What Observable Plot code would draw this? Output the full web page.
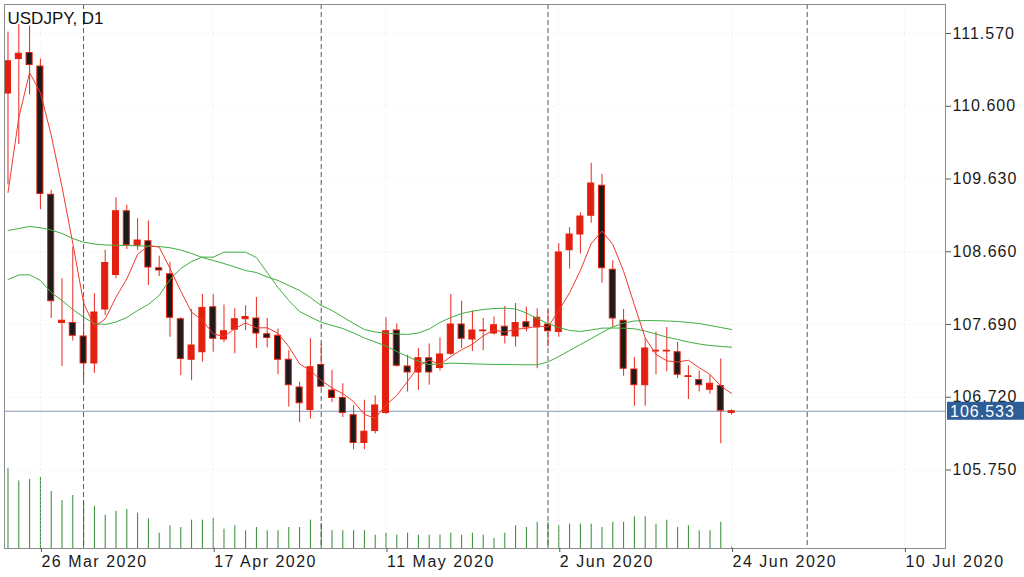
<!DOCTYPE html>
<html><head><meta charset="utf-8">
<script src="https://cdn.jsdelivr.net/npm/d3@7"></script>
<script src="https://cdn.jsdelivr.net/npm/@observablehq/plot@0.6"></script>
<style>
body{margin:0;background:#fff;}
#wrap{position:relative;width:1024px;height:577px;overflow:hidden;}
#wrap svg{position:absolute;left:0;top:0;}
</style></head><body><div id="wrap"></div>
<script>
// ---------- data ----------
const dates = ["2020-03-23","2020-03-24","2020-03-25","2020-03-26","2020-03-27","2020-03-30","2020-03-31",
"2020-04-01","2020-04-02","2020-04-03","2020-04-06","2020-04-07","2020-04-08","2020-04-09","2020-04-10",
"2020-04-13","2020-04-14","2020-04-15","2020-04-16","2020-04-17","2020-04-20","2020-04-21","2020-04-22",
"2020-04-23","2020-04-24","2020-04-27","2020-04-28","2020-04-29","2020-04-30","2020-05-01","2020-05-04",
"2020-05-05","2020-05-06","2020-05-07","2020-05-08","2020-05-11","2020-05-12","2020-05-13","2020-05-14",
"2020-05-15","2020-05-18","2020-05-19","2020-05-20","2020-05-21","2020-05-22","2020-05-25","2020-05-26",
"2020-05-27","2020-05-28","2020-05-29","2020-06-01","2020-06-02","2020-06-03","2020-06-04","2020-06-05",
"2020-06-08","2020-06-09","2020-06-10","2020-06-11","2020-06-12","2020-06-15","2020-06-16","2020-06-17",
"2020-06-18","2020-06-19","2020-06-22","2020-06-23","2020-06-24"];
const open = [110.77,111.23,111.31,111.13,109.42,107.71,107.71,107.53,107.17,107.89,108.35,109.20,108.74,108.80,108.44,
108.36,107.76,107.22,107.32,107.92,107.49,107.62,107.76,107.77,107.56,107.54,107.22,106.85,106.55,107.15,106.81,
106.71,106.48,106.11,106.27,106.51,107.61,107.13,107.05,107.24,107.11,107.30,107.69,107.49,107.60,107.57,107.66,
107.53,107.72,107.65,107.69,107.59,108.68,108.89,109.14,109.54,108.42,107.74,107.09,106.88,107.33,107.33,107.32,
106.99,106.95,106.82,106.87,106.51];
const high = [111.59,111.69,111.67,111.23,109.48,108.30,108.72,108.03,108.10,108.68,109.38,109.28,109.10,109.07,108.60,
108.52,107.78,107.89,108.09,108.09,107.95,107.90,107.94,108.05,107.77,107.63,107.34,106.92,107.50,107.43,107.08,
106.90,106.61,106.68,106.74,107.78,107.70,107.28,107.37,107.43,107.51,108.09,108.00,107.87,107.77,107.79,107.93,
107.97,107.92,107.90,107.88,108.77,108.98,109.18,109.84,109.69,108.54,107.89,107.25,107.50,107.59,107.65,107.45,
107.14,107.07,107.01,107.23,106.55];
const low = [109.55,110.09,110.75,109.22,107.77,107.13,107.47,106.94,107.04,107.81,108.30,108.69,108.68,108.21,108.33,
107.52,107.01,106.94,107.19,107.32,107.45,107.30,107.61,107.37,107.38,107.02,106.59,106.38,106.43,106.84,106.65,
106.45,106.02,106.02,106.23,106.49,107.12,106.79,106.81,106.88,107.07,107.28,107.37,107.33,107.34,107.55,107.43,
107.39,107.59,107.10,107.39,107.52,108.43,108.63,109.04,108.24,107.65,107.00,106.60,106.60,107.02,107.06,106.97,
106.69,106.79,106.76,106.10,106.48];
const close = [111.20,111.30,111.15,109.43,108.00,107.74,107.54,107.17,107.85,108.51,109.20,108.75,108.81,108.45,108.41,
107.78,107.23,107.41,107.91,107.50,107.60,107.76,107.79,107.57,107.51,107.22,106.88,106.64,107.12,106.86,106.71,
106.51,106.11,106.26,106.61,107.60,107.14,107.05,107.24,107.05,107.29,107.69,107.50,107.61,107.61,107.68,107.54,
107.71,107.65,107.78,107.60,108.65,108.89,109.13,109.57,108.44,107.77,107.10,106.88,107.37,107.34,107.34,107.02,
107.00,106.88,106.90,106.54,106.533];
const volume = [80,67.6,69,71,57,48,53,46.7,42.3,33.3,37.3,39,35.3,29.7,15.3,22.7,21,28.3,28.3,30,19.3,22.7,17.7,21,
17.7,17.7,21,21,28.3,25,17.7,17.7,17.7,17.7,13.3,15.3,13.3,15.3,13.3,13.3,13.3,15.3,13.3,15.3,13.3,10,15.3,22.7,21,
26.3,26,22.7,24.3,24.3,24.3,21,26.3,26.3,31.7,31.7,24.3,28.3,21,22.7,17.7,17.7,26.3,1.3];
const ma5 = [109.45,110.45,111.05,110.78,110.217,109.526,108.773,107.977,107.662,107.763,108.054,108.298,108.624,108.742,
108.722,108.438,108.133,107.854,107.746,107.565,107.529,107.635,107.711,107.644,107.647,107.571,107.395,107.165,107.075,
106.945,106.843,106.769,106.662,106.491,106.44,106.617,106.745,106.933,107.129,107.217,107.155,107.263,107.353,107.427,
107.539,107.617,107.588,107.629,107.637,107.671,107.655,107.877,108.114,108.411,108.768,108.936,108.758,108.40,107.95,
107.511,107.292,107.205,107.189,107.214,107.114,107.025,106.868,106.771];
const maSlow = [108.943,108.97,108.997,108.98,108.95,108.903,108.837,108.787,108.763,108.75,108.746,108.743,108.739,108.734,
108.73,108.713,108.683,108.637,108.583,108.543,108.503,108.457,108.41,108.383,108.323,108.277,108.21,108.143,108.05,
107.943,107.877,107.79,107.703,107.623,107.59,107.574,107.563,107.557,107.577,107.63,107.717,107.783,107.837,107.867,
107.89,107.903,107.907,107.897,107.843,107.77,107.703,107.65,107.61,107.597,107.617,107.641,107.643,107.641,107.633,
107.603,107.563,107.521,107.49,107.457,107.43,107.41,107.397,107.387];
const maFast = [108.29,108.35,108.353,108.277,108.117,108.01,107.89,107.787,107.703,107.69,107.723,107.783,107.877,107.957,
108.077,108.29,108.437,108.53,108.59,108.587,108.654,108.654,108.654,108.583,108.383,108.183,108.01,107.863,107.79,
107.72,107.677,107.637,107.577,107.51,107.457,107.403,107.33,107.263,107.2,107.157,107.163,107.174,107.17,107.166,
107.161,107.157,107.157,107.154,107.153,107.153,107.19,107.263,107.343,107.423,107.503,107.583,107.657,107.71,107.737,
107.743,107.741,107.737,107.73,107.717,107.703,107.677,107.65,107.623];
const priceTicks = [111.57,110.60,109.63,108.66,107.69,106.72,105.75];
const dateTickBars = [3,19,35,51,67,83];
const dateTickLabels = ["26 Mar 2020","17 Apr 2020","11 May 2020","2 Jun 2020","24 Jun 2020","10 Jul 2020"];
const monthStartBars = [7,29,50,74];
const symbolTitle = "USDJPY, D1";
const lastPrice = 106.533;

// ---------- layout ----------
const W = 1024, H = 577;
const M = {left: 4, right: 79, top: 4, bottom: 29};
const xDomain = [-0.324, 86.806];
const yDomain = [104.703, 111.957];
const FONT = "'Liberation Sans', Arial, Helvetica, sans-serif";
const RED = "#e3200f", WICK = "#e8281e", BLACK = "#1b1b1b", GREEN = "#3fae3f";

const bars = dates.map((d, i) => ({i, date: d, o: open[i], h: high[i], l: low[i], c: close[i], v: volume[i],
  up: close[i] >= open[i], ma5: ma5[i], slow: maSlow[i], fast: maFast[i]}));

// volume layer (own scale, overlaid at the bottom of the chart)
const vol = Plot.plot({
  width: W, height: H,
  marginLeft: M.left, marginRight: M.right, marginTop: H - M.bottom - 100, marginBottom: M.bottom,
  x: {domain: xDomain, axis: null},
  y: {domain: [0, 100], axis: null},
  style: {background: "transparent"},
  marks: [
    Plot.ruleX(bars, {x: "i", y1: 0, y2: "v", stroke: "#2f8a2f", strokeWidth: 1})
  ]
});

const main = Plot.plot({
  width: W, height: H,
  marginLeft: M.left, marginRight: M.right, marginTop: M.top, marginBottom: M.bottom,
  x: {domain: xDomain, axis: null, label: null},
  y: {domain: yDomain, axis: null, label: null},
  style: {fontFamily: FONT, background: "transparent", color: "#1a1a1a"},
  marks: [
    Plot.gridY(priceTicks, {stroke: "#d8d8d8", strokeOpacity: 0.6, strokeDasharray: "1,3"}),
    Plot.gridX(dateTickBars, {stroke: "#d8d8d8", strokeOpacity: 0.6, strokeDasharray: "1,3"}),
    Plot.ruleY([lastPrice], {stroke: "#8498b6", strokeWidth: 1}),
    Plot.ruleX(monthStartBars, {stroke: "#555", strokeDasharray: "5,3", strokeWidth: 1}),
    Plot.ruleX(bars, {x: "i", y1: "l", y2: "h", stroke: WICK, strokeWidth: 1}),
    Plot.rect(bars, {x1: d => d.i - 0.28, x2: d => d.i + 0.28, y1: "o", y2: "c",
      fill: d => d.up ? RED : BLACK, stroke: RED, strokeWidth: 1}),
    Plot.line(bars, {x: "i", y: "slow", stroke: GREEN, strokeWidth: 1}),
    Plot.line(bars, {x: "i", y: "fast", stroke: GREEN, strokeWidth: 1}),
    Plot.line(bars, {x: "i", y: "ma5", stroke: "#f03a2c", strokeWidth: 1}),
    Plot.frame({stroke: "#8c8c8c"}),
    Plot.axisY(priceTicks, {anchor: "right", label: null, tickSize: 5, tickPadding: 2, tickFormat: d => d.toFixed(3),
      fontSize: 16, fill: "#1a1a1a", stroke: "#555"}),
    Plot.axisX(dateTickBars, {anchor: "bottom", label: null, tickSize: 4, tickPadding: 3, textAnchor: "start", dx: 1,
      tickFormat: d => dateTickLabels[dateTickBars.indexOf(d)], fontSize: 16, fill: "#1a1a1a", stroke: "#555"}),
    Plot.text([symbolTitle], {frameAnchor: "top-left", dx: 3, dy: 7, lineAnchor: "top", textAnchor: "start",
      fontSize: 17, fill: "#111"})
  ]
});

const wrap = document.getElementById("wrap");
wrap.appendChild(vol);
wrap.appendChild(main);

const svg = d3.select(main);
svg.selectAll("g[aria-label='x-axis tick label'] text").style("letter-spacing", "1.5px");
svg.selectAll("g[aria-label='y-axis tick label'] text").style("letter-spacing", "1px");

// last price tag on the right scale
const yPix = main.scale("y").apply(lastPrice);
const tag = svg.append("g").attr("text-anchor", "start");
tag.append("rect").attr("x", W - M.right + 2).attr("y", yPix - 9).attr("width", M.right - 2).attr("height", 18)
  .attr("fill", "#2d5e98");
tag.append("text").attr("x", W - M.right + 5).attr("y", yPix + 6).attr("fill", "#fff").attr("text-anchor", "start")
  .attr("font-family", FONT).attr("font-size", 16).style("letter-spacing", "1px").text(lastPrice.toFixed(3));
</script></body></html>
